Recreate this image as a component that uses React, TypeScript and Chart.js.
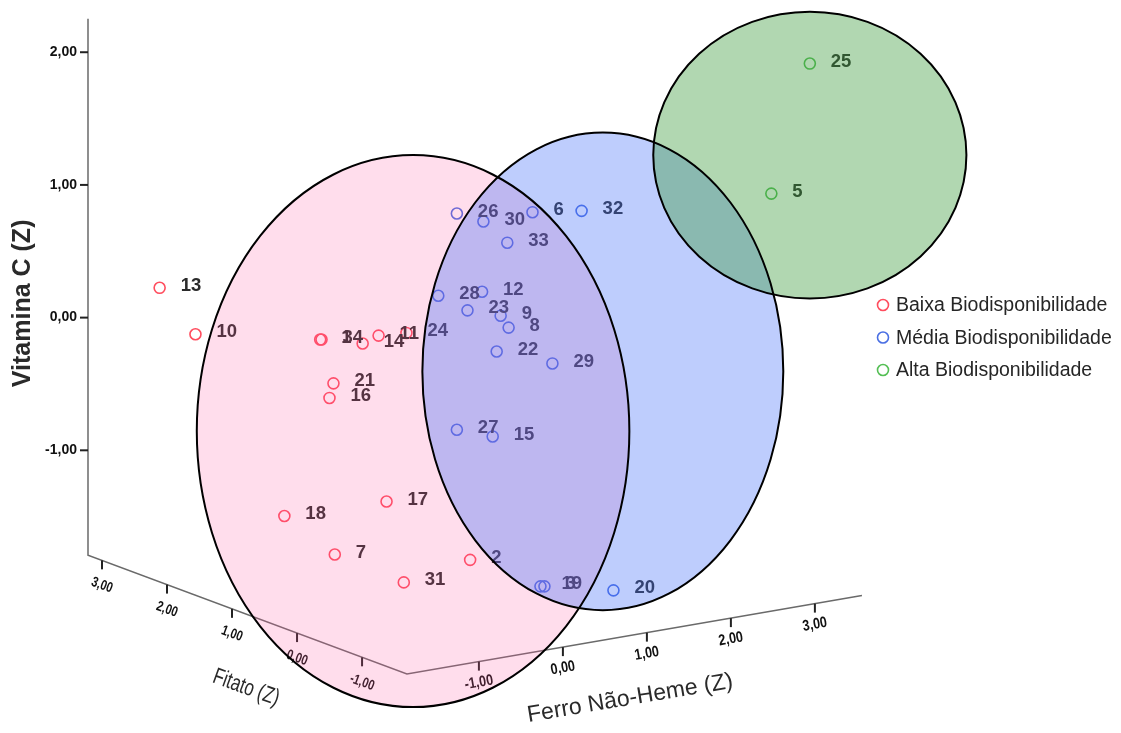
import React, { useEffect, useRef } from 'react';
import { Chart, registerables } from 'chart.js';

Chart.register(...registerables);

// ---- Data (projected positions of the SPSS 3D scatter; y in Vitamina C (Z) units) ----
const groupNames = ['Baixa Biodisponibilidade', 'Média Biodisponibilidade', 'Alta Biodisponibilidade'];

const lowIds = ['13', '10', '1', '34', '14', '11', '24', '21', '16', '18', '17', '7', '31', '2'];
const lowX = [0.54, 0.81, 1.75, 1.76, 2.07, 2.19, 2.40, 1.85, 1.82, 1.48, 2.25, 1.86, 2.38, 2.88];
const lowY = [0.22, -0.13, -0.17, -0.17, -0.20, -0.14, -0.12, -0.50, -0.61, -1.50, -1.39, -1.79, -2.00, -1.83];

const midIds = ['26', '30', '6', '32', '33', '28', '12', '23', '9', '8', '22', '29', '27', '15', '19', '3', '20'];
const midX = [2.78, 2.98, 3.35, 3.72, 3.16, 2.64, 2.97, 2.86, 3.11, 3.17, 3.08, 3.50, 2.78, 3.05, 3.41, 3.44, 3.96];
const midY = [0.78, 0.72, 0.79, 0.80, 0.56, 0.16, 0.19, 0.05, 0.01, -0.08, -0.26, -0.35, -0.85, -0.90, -2.03, -2.03, -2.06];

const highIds = ['25', '5'];
const highX = [5.44, 5.15];
const highY = [1.91, 0.93];

// group ellipses (centre / radii in the same projected units)
const ellipseCx = [2.45, 3.88, 5.44];
const ellipseCy = [-0.86, -0.41, 1.22];
const ellipseRx = [1.63, 1.36, 1.18];
const ellipseRy = [2.08, 1.80, 1.08];

// 3D axes: value ranges and tick values
const ferroRange = [-1.857, 3.56];
const fitatoRange = [-1.69, 3.215];
const vitcRange = [-1.79, 2.253];
const ferroTicks = [-1, 0, 1, 2, 3];
const fitatoTicks = [-1, 0, 1, 2, 3];
const vitcTicks = [-1, 0, 1, 2];

// projection of the 3D axes into the 2D view (view units)
const projOrigin = [2.751, -0.389];
const ferroVec = [0.633, 0.1093];
const fitatoVec = [-0.49, 0.1827];
const vitcVec = [0, 1];

const viewX = [-0.663, 7.785];
const viewY = [-3.135, 2.389];

const pointColors = ['#ff4d5e', '#4a6fe3', '#55bf55'];
const overlayColors = ['rgba(255,85,160,0.2)', 'rgba(69,112,249,0.35)', 'rgba(60,155,60,0.4)'];

const FONT = "'Liberation Sans', Arial, sans-serif";

function fmt(v: number) {
  return v.toFixed(2).replace('.', ',');
}

function proj(fe: number, fi: number, vc: number) {
  return [
    projOrigin[0] + fe * ferroVec[0] + fi * fitatoVec[0] + vc * vitcVec[0],
    projOrigin[1] + fe * ferroVec[1] + fi * fitatoVec[1] + vc * vitcVec[1],
  ];
}

function makePoints(xs: number[], ys: number[], ids: string[]) {
  return xs.map((x, i) => ({ x, y: ys[i], id: ids[i] }));
}

const plugin = {
  id: 'spss3d',
  beforeDatasetsDraw(chart: any) {
    const ctx = chart.ctx as CanvasRenderingContext2D;
    const sx = chart.scales.x;
    const sy = chart.scales.y;
    const P = (p: number[]) => [sx.getPixelForValue(p[0]), sy.getPixelForValue(p[1])];

    ctx.save();
    // axis lines
    const a0 = P(proj(ferroRange[0], fitatoRange[1], vitcRange[1]));
    const a1 = P(proj(ferroRange[0], fitatoRange[1], vitcRange[0]));
    const a2 = P(proj(ferroRange[0], fitatoRange[0], vitcRange[0]));
    const a3 = P(proj(ferroRange[1], fitatoRange[0], vitcRange[0]));
    ctx.strokeStyle = '#6a6a6a';
    ctx.lineWidth = 1.5;
    ctx.beginPath();
    ctx.moveTo(a0[0], a0[1]);
    ctx.lineTo(a1[0], a1[1]);
    ctx.lineTo(a2[0], a2[1]);
    ctx.lineTo(a3[0], a3[1]);
    ctx.stroke();

    ctx.strokeStyle = '#222';
    ctx.fillStyle = '#111';
    ctx.lineWidth = 2;
    // vitamina C ticks
    ctx.font = `bold 14px ${FONT}`;
    ctx.textAlign = 'right';
    ctx.textBaseline = 'middle';
    vitcTicks.forEach((v) => {
      const p = P(proj(ferroRange[0], fitatoRange[1], v));
      ctx.beginPath();
      ctx.moveTo(p[0] - 8, p[1]);
      ctx.lineTo(p[0], p[1]);
      ctx.stroke();
      ctx.fillText(fmt(v), p[0] - 11, p[1]);
    });
    // fitato ticks
    fitatoTicks.forEach((v) => {
      const p = P(proj(ferroRange[0], v, vitcRange[0]));
      ctx.beginPath();
      ctx.moveTo(p[0], p[1]);
      ctx.lineTo(p[0], p[1] + 9);
      ctx.stroke();
      ctx.save();
      ctx.translate(p[0], p[1] + 25);
      ctx.rotate((20 * Math.PI) / 180);
      ctx.scale(0.85, 1.1);
      ctx.font = `bold 13px ${FONT}`;
      ctx.textAlign = 'center';
      ctx.fillText(fmt(v), 0, 0);
      ctx.restore();
    });
    // ferro ticks
    ferroTicks.forEach((v) => {
      const p = P(proj(v, fitatoRange[0], vitcRange[0]));
      ctx.beginPath();
      ctx.moveTo(p[0], p[1]);
      ctx.lineTo(p[0], p[1] + 9);
      ctx.stroke();
      ctx.save();
      ctx.translate(p[0], p[1] + 21);
      ctx.rotate((-10 * Math.PI) / 180);
      ctx.scale(0.9, 1.1);
      ctx.font = `bold 14px ${FONT}`;
      ctx.textAlign = 'center';
      ctx.fillText(fmt(v), 0, 0);
      ctx.restore();
    });

    // axis titles
    ctx.fillStyle = '#2a2a2a';
    const vt = P(proj(ferroRange[0], fitatoRange[1], 0.1));
    ctx.save();
    ctx.translate(vt[0] - 65, vt[1] - 1);
    ctx.rotate(-Math.PI / 2);
    ctx.font = `bold 25px ${FONT}`;
    ctx.textAlign = 'center';
    ctx.fillText('Vitamina C (Z)', 0, 0);
    ctx.restore();

    const ft = P(proj(ferroRange[0], 1.0, vitcRange[0]));
    ctx.save();
    ctx.translate(ft[0] + 14, ft[1] + 79);
    ctx.rotate((20 * Math.PI) / 180);
    ctx.scale(0.85, 1.15);
    ctx.font = `20px ${FONT}`;
    ctx.textAlign = 'center';
    ctx.fillText('Fitato (Z)', 0, 0);
    ctx.restore();

    const fe = P(proj(0.8, fitatoRange[0], vitcRange[0]));
    ctx.save();
    ctx.translate(fe[0] + 0, fe[1] + 63);
    ctx.rotate((-9.5 * Math.PI) / 180);
    ctx.font = `23px ${FONT}`;
    ctx.textAlign = 'center';
    ctx.fillText('Ferro Não-Heme (Z)', 0, 0);
    ctx.restore();

    // legend
    ctx.font = `19.5px ${FONT}`;
    ctx.textAlign = 'left';
    ctx.textBaseline = 'middle';
    groupNames.forEach((name, i) => {
      const lx = 883;
      const ly = 305 + i * 32.5;
      ctx.beginPath();
      ctx.arc(lx, ly, 5.5, 0, Math.PI * 2);
      ctx.strokeStyle = pointColors[i];
      ctx.lineWidth = 1.6;
      ctx.stroke();
      ctx.fillStyle = '#262626';
      ctx.fillText(name, lx + 13, ly + 1);
    });
    ctx.restore();
  },
  afterDatasetsDraw(chart: any) {
    const ctx = chart.ctx as CanvasRenderingContext2D;
    const sx = chart.scales.x;
    const sy = chart.scales.y;
    ctx.save();
    // point labels
    ctx.font = `bold 18.5px ${FONT}`;
    ctx.textAlign = 'left';
    ctx.textBaseline = 'middle';
    ctx.fillStyle = '#2b2b2b';
    chart.data.datasets.forEach((ds: any, di: number) => {
      const meta = chart.getDatasetMeta(di);
      meta.data.forEach((el: any, i: number) => {
        ctx.fillText(ds.data[i].id, el.x + 21, el.y - 2);
      });
    });
    // ellipses
    const shapes = ellipseCx.map((cx, i) => {
      const x = sx.getPixelForValue(cx);
      const y = sy.getPixelForValue(ellipseCy[i]);
      const rx = Math.abs(sx.getPixelForValue(cx + ellipseRx[i]) - x);
      const ry = Math.abs(sy.getPixelForValue(ellipseCy[i] + ellipseRy[i]) - y);
      return { x, y, rx, ry };
    });
    shapes.forEach((s, i) => {
      ctx.beginPath();
      ctx.ellipse(s.x, s.y, s.rx, s.ry, 0, 0, Math.PI * 2);
      ctx.fillStyle = overlayColors[i];
      ctx.fill();
    });
    ctx.strokeStyle = '#000';
    ctx.lineWidth = 2;
    shapes.forEach((s) => {
      ctx.beginPath();
      ctx.ellipse(s.x, s.y, s.rx, s.ry, 0, 0, Math.PI * 2);
      ctx.stroke();
    });
    ctx.restore();
  },
};

export default function App() {
  const ref = useRef<HTMLCanvasElement>(null);
  useEffect(() => {
    document.body.style.margin = '0';
    const canvas = ref.current as HTMLCanvasElement;
    const sets = [
      makePoints(lowX, lowY, lowIds),
      makePoints(midX, midY, midIds),
      makePoints(highX, highY, highIds),
    ];
    const chart = new Chart(canvas, {
      type: 'scatter',
      data: {
        datasets: sets.map((data, i) => ({
          label: groupNames[i],
          data,
          pointStyle: 'circle',
          pointRadius: 5.5,
          pointBorderWidth: 1.6,
          borderColor: pointColors[i],
          backgroundColor: 'rgba(0,0,0,0)',
          pointBackgroundColor: 'rgba(0,0,0,0)',
          pointBorderColor: pointColors[i],
          clip: false,
        })),
      } as any,
      options: {
        animation: false,
        responsive: false,
        devicePixelRatio: 1,
        layout: { padding: 0, autoPadding: false },
        plugins: { legend: { display: false }, tooltip: { enabled: false } },
        scales: {
          x: { type: 'linear', min: viewX[0], max: viewX[1], display: false },
          y: { type: 'linear', min: viewY[0], max: viewY[1], display: false },
        },
      } as any,
      plugins: [plugin],
    });
    return () => chart.destroy();
  }, []);
  return <canvas ref={ref} width={1121} height={733} style={{ display: 'block' }} />;
}
